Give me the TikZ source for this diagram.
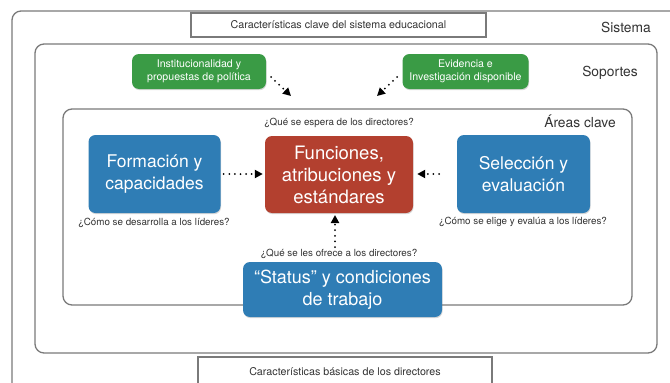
\documentclass[tikz,border=0pt]{standalone}
\usepackage{fontspec}
\setmainfont{TeX Gyre Heros}
\usetikzlibrary{arrows.meta,shadows}
\definecolor{frame}{HTML}{7A7A7A}
\definecolor{boxblue}{HTML}{2F7DB5}
\definecolor{boxred}{HTML}{B3402F}
\definecolor{boxgreen}{HTML}{3A9B45}
\definecolor{txt}{HTML}{333333}
\tikzset{
  frameline/.style={draw=frame, line width=1.3pt, rounded corners=9pt},
  labelbox/.style={draw=frame, line width=1.3pt, fill=white},
  colbox/.style={rounded corners=7pt, text=white, align=center, inner sep=0pt,
    drop shadow={opacity=0.3, shadow xshift=0.6pt, shadow yshift=-1.2pt}},
  bluebox/.style={colbox, fill=boxblue},
  redbox/.style={colbox, fill=boxred},
  greenbox/.style={colbox, fill=boxgreen},
  caption/.style={text=txt, font=\fontsize{9.8}{11}\selectfont, inner sep=0pt},
  levellabel/.style={text=txt, font=\fontsize{13.8}{16}\selectfont, inner sep=0pt},
  dotarrow/.style={line width=2pt, dash pattern=on 0pt off 5.6pt, line cap=round,
    -{Triangle[length=8pt,width=8pt,line cap=butt]}, black},
}
\begin{document}
\begin{tikzpicture}[x=1pt,y=-1pt]
\useasboundingbox (0,0) rectangle (670,383);
\clip (0,0) rectangle (670,383);
\fill[white] (0,0) rectangle (670,383);
% frames
\draw[frameline] (12,11) rectangle (720,430);
\draw[frameline] (35,44) rectangle (657,353);
\draw[frameline] (63,109) rectangle (632,305);
% label boxes
\node[labelbox, minimum width=295pt, minimum height=24pt, inner sep=0pt,
  font=\fontsize{10.7}{12}\selectfont, text=txt] (topbox) at (338.5,25) {Características clave del sistema educacional};
\draw[labelbox] (198,357) rectangle (492,400);
\node[inner sep=0pt, font=\fontsize{10.7}{12}\selectfont, text=txt] (botbox) at (345,372) {Características básicas de los directores};
% level labels
\node[levellabel] (sistema) at (626,27) {Sistema};
\node[levellabel] (soportes) at (610,73) {Soportes};
\node[levellabel] (areas) at (580,121) {Áreas clave};
% green boxes
\node[greenbox, minimum width=134pt, minimum height=35pt,
  font=\fontsize{10.6}{13}\selectfont] (lgreen) at (199,71.5) {Institucionalidad y\\propuestas de política};
\node[greenbox, minimum width=126pt, minimum height=35pt,
  font=\fontsize{10.6}{13}\selectfont] (rgreen) at (465.5,71.5) {Evidencia e\\Investigación disponible};
% main boxes
\node[bluebox, minimum width=132pt, minimum height=78pt,
  font=\fontsize{17.5}{22}\selectfont] (form) at (154.5,174) {Formación y\\capacidades};
\node[redbox, minimum width=148pt, minimum height=77pt,
  font=\fontsize{18.5}{22}\selectfont] (func) at (339,174.5) {Funciones,\\atribuciones y\\estándares};
\node[bluebox, minimum width=133pt, minimum height=78pt,
  font=\fontsize{17.5}{22}\selectfont] (sel) at (523.5,174) {Selección y\\evaluación};
\node[bluebox, minimum width=199pt, minimum height=55pt,
  font=\fontsize{18}{22}\selectfont] (status) at (342.5,289.5) {“Status” y condiciones\\de trabajo};
% captions
\node[caption] (c1) at (339,123) {¿Qué se espera de los directores?};
\node[caption] (c2) at (154,223) {¿Cómo se desarrolla a los líderes?};
\node[caption] (c3) at (523,222) {¿Cómo se elige y evalúa a los líderes?};
\node[caption] (c4) at (339,254) {¿Qué se les ofrece a los directores?};
% arrow ends
\coordinate (lgs) at (271,77);
\coordinate (lge) at (291,96);
\coordinate (rgs) at (397,77);
\coordinate (rge) at (377,96);
\coordinate (rs) at (439,174);
\coordinate (vs) at (335,247);
\coordinate (ve) at (335,215);
% arrows
\draw[dotarrow] (lgs) -- (lge);
\draw[dotarrow] (rgs) -- (rge);
\draw[dotarrow] ([xshift=3pt]form.east) -- ([xshift=-2pt]func.west |- form.east);
\draw[dotarrow] (rs) -- ([xshift=4pt]func.east |- rs);
\draw[dotarrow] (vs) -- (ve);
\end{tikzpicture}
\end{document}
